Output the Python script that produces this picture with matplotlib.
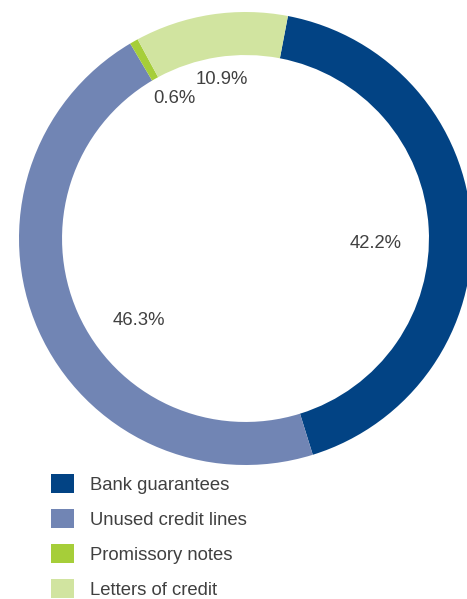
import matplotlib
matplotlib.use("Agg")
import matplotlib.pyplot as plt
from matplotlib.patches import Patch

categories = ["Bank guarantees", "Unused credit lines", "Promissory notes", "Letters of credit"]
shares = [42.2, 46.3, 0.6, 10.9]
colors = ["#024384", "#7185B4", "#A6CE39", "#D1E4A0"]

# where each percentage label sits (pie radius units)
label_pos = [(0.574, -0.02), (-0.470, -0.364), (-0.316, 0.616), (-0.104, 0.700)]

plt.rcParams["font.family"] = ["Liberation Sans", "DejaVu Sans"]
text_color = "#404040"

fig = plt.figure(figsize=(4.67, 5.99), dpi=100)
ax = fig.add_axes([19 / 467, 134 / 599, 453 / 467, 453 / 599])

ax.pie(shares, colors=colors, startangle=79.2, counterclock=False,
       radius=1.0, wedgeprops=dict(width=0.19, linewidth=0))
for (x, y), v in zip(label_pos, shares):
    ax.text(x, y, "%.1f%%" % v, ha="center", va="center",
            fontsize=13.3, color=text_color)
ax.set_xlim(-1, 1)
ax.set_ylim(-1, 1)
ax.set_aspect("equal")
ax.axis("off")

handles = [Patch(facecolor=c, edgecolor="none") for c in colors]
leg = fig.legend(handles, categories, loc="upper left",
                 bbox_to_anchor=(51 / 467, 1 - 474 / 599),
                 frameon=False, fontsize=13.3, borderpad=0, borderaxespad=0,
                 handlelength=1.24, handleheight=1.24, handletextpad=0.86,
                 labelspacing=0.81)
for t in leg.get_texts():
    t.set_color(text_color)

fig.savefig("out.png", dpi=100)
